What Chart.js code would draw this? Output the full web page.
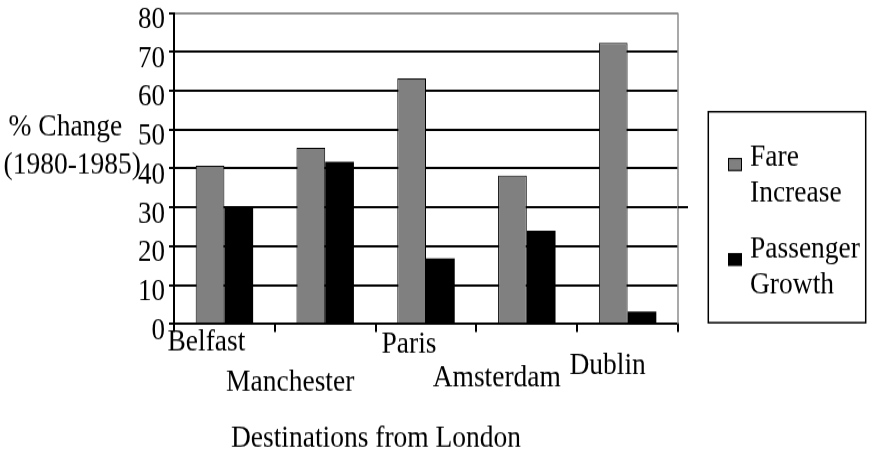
<!DOCTYPE html>
<html>
<head>
<meta charset="utf-8">
<title>Fare increase vs passenger growth</title>
<script src="https://cdn.jsdelivr.net/npm/chart.js@4/dist/chart.umd.min.js"></script>
<style>
  html, body { margin: 0; padding: 0; background: #fff; overflow: hidden; }
  /* the chart is laid out at 401px tall and stretched to the 449px page,
     which gives the tall, narrow serif lettering */
  #frame { position: absolute; left: 0; top: 0; width: 869px; height: 401px;
           transform-origin: 0 0; transform: scale(1, 1.1197); }
</style>
</head>
<body>
<div id="frame"><canvas id="chart"></canvas></div>
<script>
// ---- data ----
const destinations    = ['Belfast', 'Manchester', 'Paris', 'Amsterdam', 'Dublin'];
const fareIncrease    = [40.7, 45.3, 63.2, 38.2, 72.3];
const passengerGrowth = [30.2, 41.7, 16.9, 24.0, 3.2];
const yTickValues     = [0, 10, 20, 30, 40, 50, 60, 70, 80];
const seriesNames     = ['Fare Increase', 'Passenger Growth'];
const yTitleLines     = ['% Change', '(1980-1985)'];
const xTitle          = 'Destinations from London';

// ---- layout helpers ----
const SY = 449 / 401;            // vertical stretch applied by the CSS frame
const fy = v => v / SY;          // page y (px) -> canvas y (px)
const FONT = 'Liberation Serif';
const GREY = '#808080';

// staggered placement of the category names:
// dx from the bar-group centre, dy = baseline below the x axis (page px)
const nameNudge = [
  { dx: -18, dy: 27 }, { dx: -35, dy: 67 }, { dx: -17, dy: 29 },
  { dx: -30, dy: 62 }, { dx: -20, dy: 50 }
];

const decor = {
  id: 'decor',
  beforeDatasetsDraw(chart) {
    const { ctx, chartArea: a, scales: { y } } = chart;
    ctx.save();
    // right frame edge
    ctx.strokeStyle = '#8c8c8c';
    ctx.lineWidth = 1.5;
    ctx.beginPath();
    ctx.moveTo(a.right, a.top);
    ctx.lineTo(a.right, a.bottom);
    ctx.stroke();
    // the 30 grid line runs a little past the frame
    const y30 = Math.round(y.getPixelForValue(30));
    ctx.strokeStyle = '#000';
    ctx.lineWidth = 2;
    ctx.beginPath();
    ctx.moveTo(a.right, y30);
    ctx.lineTo(a.right + 10, y30);
    ctx.stroke();
    ctx.restore();
  },
  afterDraw(chart) {
    const { ctx, chartArea: a, scales: { x } } = chart;
    ctx.save();
    ctx.fillStyle = '#000';
    ctx.font = `27.5px "${FONT}", serif`;
    ctx.textBaseline = 'alphabetic';

    // category names
    ctx.textAlign = 'center';
    destinations.forEach((name, i) => {
      const n = nameNudge[i];
      ctx.fillText(name, x.getPixelForValue(i) + n.dx, a.bottom + fy(n.dy));
    });

    // axis titles
    ctx.fillText(xTitle, 376, fy(446.5));
    ctx.textAlign = 'left';
    ctx.fillText(yTitleLines[0], 8.5, fy(135));
    ctx.fillText(yTitleLines[1], 3.5, fy(173));

    // legend box
    const L = { left: 708.3, top: 111.7, right: 865.7, bottom: 322.7 };
    ctx.lineWidth = 1.5;
    ctx.strokeStyle = '#000';
    ctx.strokeRect(L.left, fy(L.top), L.right - L.left, fy(L.bottom) - fy(L.top));
    const swatchTop = [158, 253];
    const lineBase = [[166, 201], [257, 293]];
    chart.data.datasets.forEach((ds, i) => {
      const sy = fy(swatchTop[i]);
      ctx.fillStyle = ds.backgroundColor;
      ctx.fillRect(728, sy, 14, fy(13));
      if (ds.borderWidth) {
        ctx.lineWidth = 1;
        ctx.strokeStyle = ds.borderColor;
        ctx.strokeRect(728.5, sy + 0.5, 13, fy(13) - 1);
      }
      ctx.fillStyle = '#000';
      ds.label.split(' ').forEach((word, j) => ctx.fillText(word, 750, fy(lineBase[i][j])));
    });
    ctx.restore();
  }
};

new Chart(document.getElementById('chart'), {
  type: 'bar',
  data: {
    labels: destinations,
    datasets: [
      { label: seriesNames[0], data: fareIncrease, backgroundColor: GREY,
        borderColor: '#000', borderWidth: 1 },
      { label: seriesNames[1], data: passengerGrowth, backgroundColor: '#000',
        borderWidth: 0 }
    ]
  },
  options: {
    responsive: true,
    maintainAspectRatio: false,
    animation: false,
    events: [],
    datasets: { bar: { categoryPercentage: 0.57, barPercentage: 1.0 } },
    layout: { padding: { left: 0, right: 191, top: fy(13), bottom: 0 } },
    plugins: { legend: { display: false }, tooltip: { enabled: false } },
    scales: {
      x: {
        ticks: { display: false },
        grid: { display: true, drawOnChartArea: false, drawTicks: true,
                tickLength: fy(8), color: '#000', lineWidth: 2, offset: true },
        border: { display: true, color: '#000', width: 2 },
        afterFit(s) { s.height = 401 - fy(324); s.paddingLeft = 0; s.paddingRight = 0; }
      },
      y: {
        min: 0,
        max: 80,
        afterBuildTicks(s) { s.ticks = yTickValues.map(v => ({ value: v })); },
        ticks: { font: { family: FONT, size: 27 }, color: '#000', padding: 4,
                 labelOffset: fy(7), autoSkip: false, stepSize: 10 },
        grid: { color: c => (c.tick && c.tick.value === 80 ? '#8c8c8c' : '#000'),
                tickColor: '#000', lineWidth: 2, tickLength: 5, drawTicks: true },
        border: { display: true, color: '#000', width: 2 },
        afterFit(s) { s.width = 174; s.paddingTop = 0; s.paddingBottom = 0; }
      }
    }
  },
  plugins: [decor]
});
</script>
</body>
</html>
